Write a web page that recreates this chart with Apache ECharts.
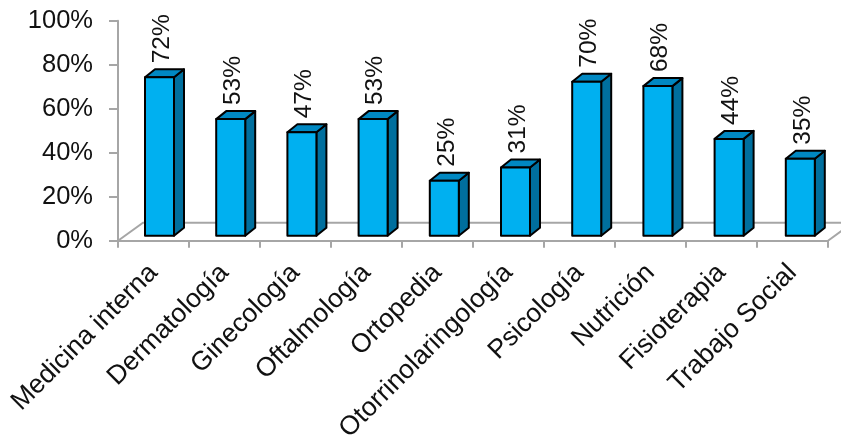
<!DOCTYPE html>
<html><head><meta charset="utf-8"><style>html,body{margin:0;padding:0;background:#fff}#c{width:841px;height:435px}</style>
<script src="https://cdn.jsdelivr.net/npm/echarts@6/dist/echarts.min.js"></script></head>
<body><div id="c"></div><script>
const categories = ["Medicina interna","Dermatología","Ginecología","Oftalmología","Ortopedia","Otorrinolaringología","Psicología","Nutrición","Fisioterapia","Trabajo Social"];
const values = [72,53,47,53,25,31,70,68,44,35];
const FONT = '"Liberation Sans", Arial, sans-serif';
const GRID = '#a6a6a6';
const chart = echarts.init(document.getElementById('c'), null, {renderer:'canvas'});
const dx=10, dy=8, floorDx=25, floorDy=18, offX=6, offY=-5, barW=29, drift=0.2;
function renderBar(params, api){
  const i=api.value(0), v=api.value(1);
  const p=api.coord([i,v]), z=api.coord([i,0]);
  const l=p[0]+offX+i*drift-barW/2, r=l+barW, t=p[1]+offY, b=z[1]+offY;
  const line={stroke:'#000',lineWidth:2,lineJoin:'round'};
  return {type:'group',silent:true,children:[
    {type:'polygon',shape:{points:[[r,t],[r+dx,t-dy],[r+dx,b-dy],[r,b]]},style:Object.assign({fill:'#006f9e'},line)},
    {type:'polygon',shape:{points:[[l,t],[l+dx,t-dy],[r+dx,t-dy],[r,t]]},style:Object.assign({fill:'#0088c2'},line)},
    {type:'rect',shape:{x:l,y:t,width:barW,height:b-t},style:Object.assign({fill:'#00b0f0'},line)},
    {type:'text',x:r-12,y:t-dy-6,rotation:Math.PI/2,style:{text:v+'%',font:'24.5px '+FONT,fill:'#111',align:'left',verticalAlign:'middle'}}
  ]};
}
function renderFloor(params, api){
  const cs=params.coordSys, left=cs.x, right=cs.x+cs.width, bottom=cs.y+cs.height;
  const st={stroke:GRID,lineWidth:2,fill:null};
  return {type:'group',silent:true,children:[
    {type:'polyline',shape:{points:[[left,bottom],[left+floorDx,bottom-floorDy],[right+floorDx,bottom-floorDy],[right,bottom]]},style:st}
  ]};
}
chart.setOption({
  animation:false,
  grid:{left:118,right:13,top:20.7,bottom:194.3,containLabel:false,outerBoundsMode:'none'},
  xAxis:{type:'category',data:categories,
    axisLine:{show:true,lineStyle:{color:GRID,width:2}},
    axisTick:{show:true,length:7,lineStyle:{color:GRID,width:2}},
    axisLabel:{interval:0,rotate:45,margin:28,color:'#111',fontFamily:'"Liberation Sans", Arial, sans-serif',fontSize:26.5}},
  yAxis:{type:'value',min:0,max:100,interval:20,
    axisLine:{show:true,lineStyle:{color:GRID,width:2}},
    axisTick:{show:true,length:9,lineStyle:{color:GRID,width:2}},
    splitLine:{show:false},
    axisLabel:{margin:25,formatter:'{value}%',color:'#111',fontFamily:'"Liberation Sans", Arial, sans-serif',fontSize:25.5}},
  series:[
    {type:'custom',name:'floor',renderItem:renderFloor,data:[[0,0]],clip:false,z:1,silent:true},
    {type:'custom',name:'bars',renderItem:renderBar,encode:{x:0,y:1},data:values.map((v,i)=>[i,v]),clip:false,z:3}
  ]
});
</script></body></html>
